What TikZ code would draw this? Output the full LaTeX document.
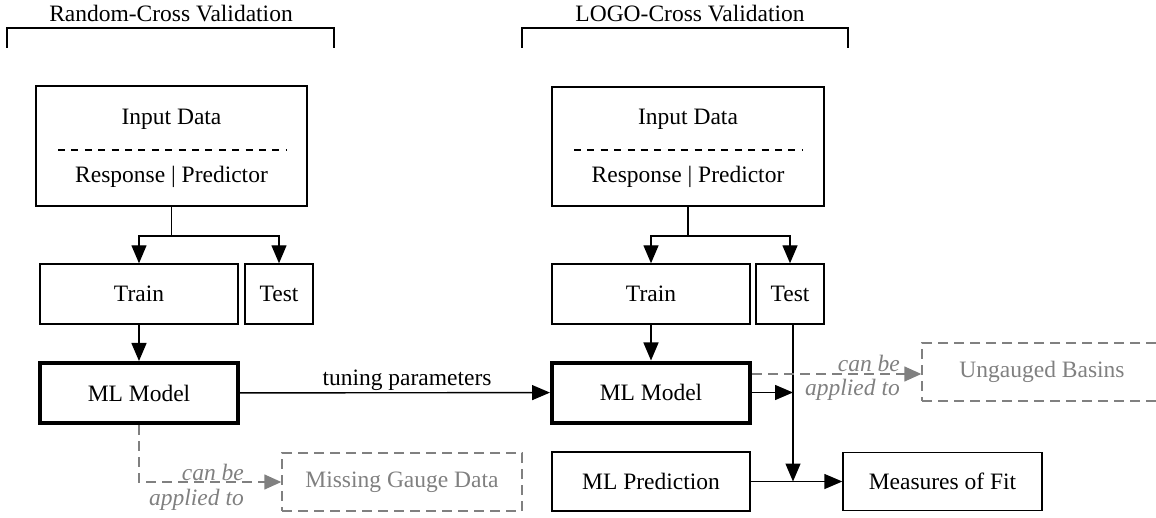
\documentclass[tikz,border=0pt]{standalone}
\usepackage{fontspec}
\setmainfont{Liberation Serif}
\usetikzlibrary{arrows.meta}
\definecolor{lgray}{RGB}{128,128,128}
\begin{document}
\begin{tikzpicture}[x=1pt,y=-1pt,
  font=\fontsize{23.5}{28}\selectfont,
  txt/.style={inner sep=0pt},
  bx/.style={draw, line width=1.4pt, inner sep=0pt},
  thickbx/.style={draw, line width=4pt, inner sep=0pt},
  gbx/.style={draw=lgray, text=lgray, line width=1.4pt, dash pattern=on 10pt off 6pt, inner sep=0pt},
  ln/.style={line width=1.4pt},
  arr/.style={line width=1.4pt, -{Triangle[length=18pt,width=15pt]}},
  garr/.style={draw=lgray, line width=1.4pt, dash pattern=on 10pt off 6pt, -{Triangle[length=17pt,width=15pt,fill=lgray]}},
  glbl/.style={txt, text=lgray, font=\fontsize{23.5}{28}\selectfont\itshape}
]
\useasboundingbox (0,0) rectangle (1156,518);

% ---------- Left: Random-Cross Validation ----------
\node[txt, anchor=base] (titleL) at (171,22) {Random-Cross Validation};
\draw[ln] (7,48) -- (7,28) -- (334,28) -- (334,48);

\node[bx, minimum width=271pt, minimum height=120pt] (inL) at (171.5,146) {};
\node[txt, anchor=base] (inLa) at (171.5,125) {Input Data};
\draw[ln, dash pattern=on 7pt off 6.4pt] (58,150) -- (286,150);
\node[txt, anchor=base] (inLb) at (171.5,183) {Response | Predictor};

\node[bx, minimum width=198pt, minimum height=60pt] (trainL) at (139,294) {Train};
\node[bx, minimum width=68pt, minimum height=60pt] (testL) at (279,294) {Test};
\node[thickbx, minimum width=198pt, minimum height=60pt] (mlL) at (139,393) {ML Model};
\node[gbx, minimum width=240pt, minimum height=58pt] (missL) at (402,482) {Missing Gauge Data};

\coordinate (splitL) at (inL.south |- 0,236);
\draw[ln] (inL.south) -- (splitL);
\draw[arr] (splitL) -| (trainL.north);
\draw[arr] (splitL) -| (testL.north);
\draw[arr] (trainL) -- (mlL);

\draw[garr] (mlL.south) |- (missL.west);
\node[glbl, anchor=base east] (canL) at (244,480) {can be};
\node[glbl, anchor=base east] (appL) at (244,505) {applied to};

% ---------- Right: LOGO-Cross Validation ----------
\node[txt, anchor=base] (titleR) at (690,22) {LOGO-Cross Validation};
\draw[ln] (522,48) -- (522,28) -- (848,28) -- (848,48);

\node[bx, minimum width=272pt, minimum height=119pt] (inR) at (688,146.5) {};
\node[txt, anchor=base] (inRa) at (688,125) {Input Data};
\draw[ln, dash pattern=on 7pt off 6.4pt] (574,150) -- (802,150);
\node[txt, anchor=base] (inRb) at (688,183) {Response | Predictor};

\node[bx, minimum width=198pt, minimum height=60pt] (trainR) at (651,294) {Train};
\node[bx, minimum width=68pt, minimum height=60pt] (testR) at (790,294) {Test};
\node[thickbx, minimum width=198pt, minimum height=60pt] (mlR) at (651,392.5) {ML Model};
\node[gbx, minimum width=240pt, minimum height=58pt] (ungR) at (1042,372) {Ungauged Basins};
\node[bx, minimum width=198pt, minimum height=59pt] (predR) at (651,481.5) {ML Prediction};
\node[bx, minimum width=199pt, minimum height=58pt] (measR) at (942.5,481.5) {Measures of Fit};

\coordinate (splitR) at (inR.south |- 0,236);
\draw[ln] (inR.south) -- (splitR);
\draw[arr] (splitR) -| (trainR.north);
\draw[arr] (splitR) -| (testR.north);
\draw[arr] (trainR) -- (mlR);

% tuning parameters
\draw[arr] (mlL) -- (mlR);
\node[txt, anchor=base] (tune) at (407,385) {tuning parameters};

% test line down to the prediction/fit link
\coordinate (tv) at ([xshift=3pt]testR.south);
\coordinate (jM) at (tv |- mlR.east);
\coordinate (jP) at (tv |- predR.east);
\draw[arr] (tv) -- (jP);
\draw[arr] (mlR.east) -- (jM);
\draw[arr] (predR) -- (measR);

% can be applied to
\coordinate (gs) at ([yshift=18.5pt]mlR.east);
\draw[garr] (gs) -- (gs -| ungR.west);
\node[glbl, anchor=base east] (canR) at (900,371) {can be};
\node[glbl, anchor=base east] (appR) at (900,395) {applied to};
\end{tikzpicture}
\end{document}
